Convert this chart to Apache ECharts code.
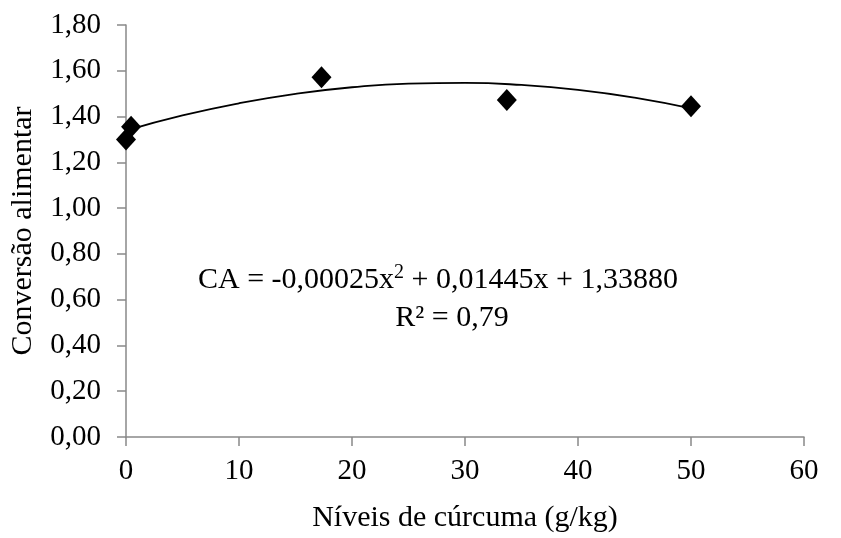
<!DOCTYPE html>
<html>
<head>
<meta charset="utf-8">
<script src="https://cdn.jsdelivr.net/npm/echarts@6/dist/echarts.min.js"></script>
<style>
html, body { margin: 0; padding: 0; background: #fff; }
#chart { width: 841px; height: 538px; }
</style>
</head>
<body>
<div id="chart"></div>
<script>
// observed points (level of turmeric, feed conversion)
var niveis = [0, 0.45, 17.3, 33.7, 50]
var conversao = [1.30, 1.355, 1.572, 1.472, 1.445]

// trend line
var curvaX = [0, 5, 10, 15, 20, 25, 30, 35, 40, 45, 50]
var curvaY = [1.339, 1.405, 1.458, 1.499, 1.528, 1.544, 1.547, 1.538, 1.517, 1.483, 1.436]

var fonte = 'Liberation Serif, Times New Roman, serif'

var chart = echarts.init(document.getElementById('chart'))

var pontos = niveis.map(function (x, i) { return [x, conversao[i]] })
var curva = curvaX.map(function (x, i) { return [x, curvaY[i]] })

chart.setOption({
    animation: false,
    grid: {
        left: 126,
        right: 37,
        top: 25,
        bottom: 98
    },
    xAxis: {
        type: 'value',
        min: 0,
        max: 60,
        interval: 10,
        name: 'Níveis de cúrcuma (g/kg)',
        nameLocation: 'middle',
        nameGap: 66,
        nameTextStyle: { fontFamily: fonte, fontSize: 30, color: '#000' },
        axisLine: { onZero: false, lineStyle: { color: '#898989', width: 1.5 } },
        axisTick: { show: true, length: 9, lineStyle: { color: '#898989', width: 1.5 } },
        axisLabel: { fontFamily: fonte, fontSize: 29, color: '#000', margin: 20 },
        splitLine: { show: false }
    },
    yAxis: {
        type: 'value',
        min: 0,
        max: 1.8,
        interval: 0.2,
        name: 'Conversão alimentar',
        nameLocation: 'middle',
        nameGap: 88,
        nameTextStyle: { fontFamily: fonte, fontSize: 30, color: '#000' },
        axisLine: { show: true, lineStyle: { color: '#898989', width: 1.5 } },
        axisTick: { show: true, length: 9, lineStyle: { color: '#898989', width: 1.5 } },
        axisLabel: {
            fontFamily: fonte,
            fontSize: 29,
            color: '#000',
            margin: 25,
            formatter: function (v) { return v.toFixed(2).replace('.', ',') }
        },
        splitLine: { show: false }
    },
    series: [{
        type: 'line',
        data: curva,
        smooth: true,
        symbol: 'none',
        lineStyle: { color: '#000', width: 1.8 },
        z: 2
    }, {
        type: 'scatter',
        data: pontos,
        symbol: 'diamond',
        symbolSize: [20, 22],
        itemStyle: { color: '#000', opacity: 1 },
        z: 3
    }],
    graphic: [{
        type: 'text',
        x: 198,
        y: 280,
        style: {
            text: '{n|CA = -0,00025x}{s|2}{n| + 0,01445x + 1,33880}',
            verticalAlign: 'middle',
            rich: {
                n: { fontFamily: fonte, fontSize: 30, fill: '#000' },
                s: { fontFamily: fonte, fontSize: 20, fill: '#000', padding: [0, 0, 14, 0] }
            }
        }
    }, {
        type: 'text',
        x: 452,
        y: 318,
        style: {
            text: 'R² = 0,79',
            align: 'center',
            verticalAlign: 'middle',
            fontFamily: fonte,
            fontSize: 30,
            fill: '#000'
        }
    }]
})
</script>
</body>
</html>
